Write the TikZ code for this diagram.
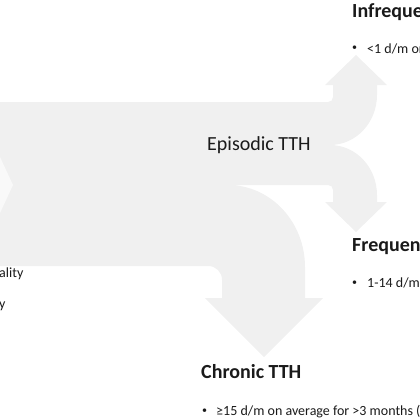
\documentclass[tikz,border=0pt]{standalone}
\usepackage{fontspec}
\setmainfont{Carlito}
\definecolor{bandgray}{HTML}{F0F0F0}
\definecolor{chevgray}{HTML}{F9F9F9}
\definecolor{txt}{HTML}{1A1A1A}
\tikzset{
  band/.style={fill=bandgray},
  chev/.style={fill=chevgray},
  bigtitle/.style={anchor=base west, inner sep=0pt, text=txt, font=\fontsize{20}{24}\selectfont},
  boldtitle/.style={bigtitle, font=\fontsize{20}{24}\selectfont\bfseries},
  small/.style={anchor=base west, inner sep=0pt, text=txt, font=\fontsize{14}{16}\selectfont},
  bulletmark/.style={anchor=base west, inner sep=0pt, text=txt, font=\fontsize{10}{12}\selectfont},
}
\begin{document}
\begin{tikzpicture}[x=1pt,y=-1pt]
\useasboundingbox (0,0) rectangle (420,420);
\clip (0,0) rectangle (420,420);
% main flow shape
\fill[band] (0,102) -- (328,102) .. controls (331,102) and (333,100) .. (333,97)
  -- (333,85) -- (325,85) -- (356,55) -- (387,85) -- (377,85) -- (377,95)
  .. controls (377,122.6) and (356,145) .. (330,145)
  .. controls (356,145) and (377,167.4) .. (377,195)
  -- (377,202) -- (387,202) -- (356,232) -- (325,202) -- (333,202) -- (333,190)
  .. controls (333,187) and (331,185) .. (328,185)
  -- (228,185) .. controls (270.5,185) and (305,221.7) .. (305,267)
  -- (305,298) -- (323,298) -- (264,357) -- (205,298) -- (222,298) -- (222,280)
  .. controls (222,272) and (216,266) .. (208,266)
  -- (0,266) -- cycle;
% lighter chevron at the left edge
\fill[chev] (0,157) -- (13,185) -- (0,213) -- cycle;
% labels
\node[bigtitle] (episodic) at (207,150) {Episodic TTH};
\node[boldtitle] (infreq) at (352,18) {Infreque};
\node[boldtitle] (freq) at (352,251) {Frequen};
\node[boldtitle] (chronic) at (201,378) {Chronic TTH};
\node[bulletmark] (b1) at (352,51) {•};
\node[small] (t1) at (367,53) {<1 d/m or};
\node[bulletmark] (b2) at (352,285) {•};
\node[small] (t2) at (367,287) {1-14 d/m};
\node[bulletmark] (b3) at (202,413) {•};
\node[small] (t3) at (216,415) {≥15 d/m on average for >3 months (≥};
\node[small] (l1) at (-1,277) {ality};
\node[small] (l2) at (-1,308) {y};
\end{tikzpicture}
\end{document}
